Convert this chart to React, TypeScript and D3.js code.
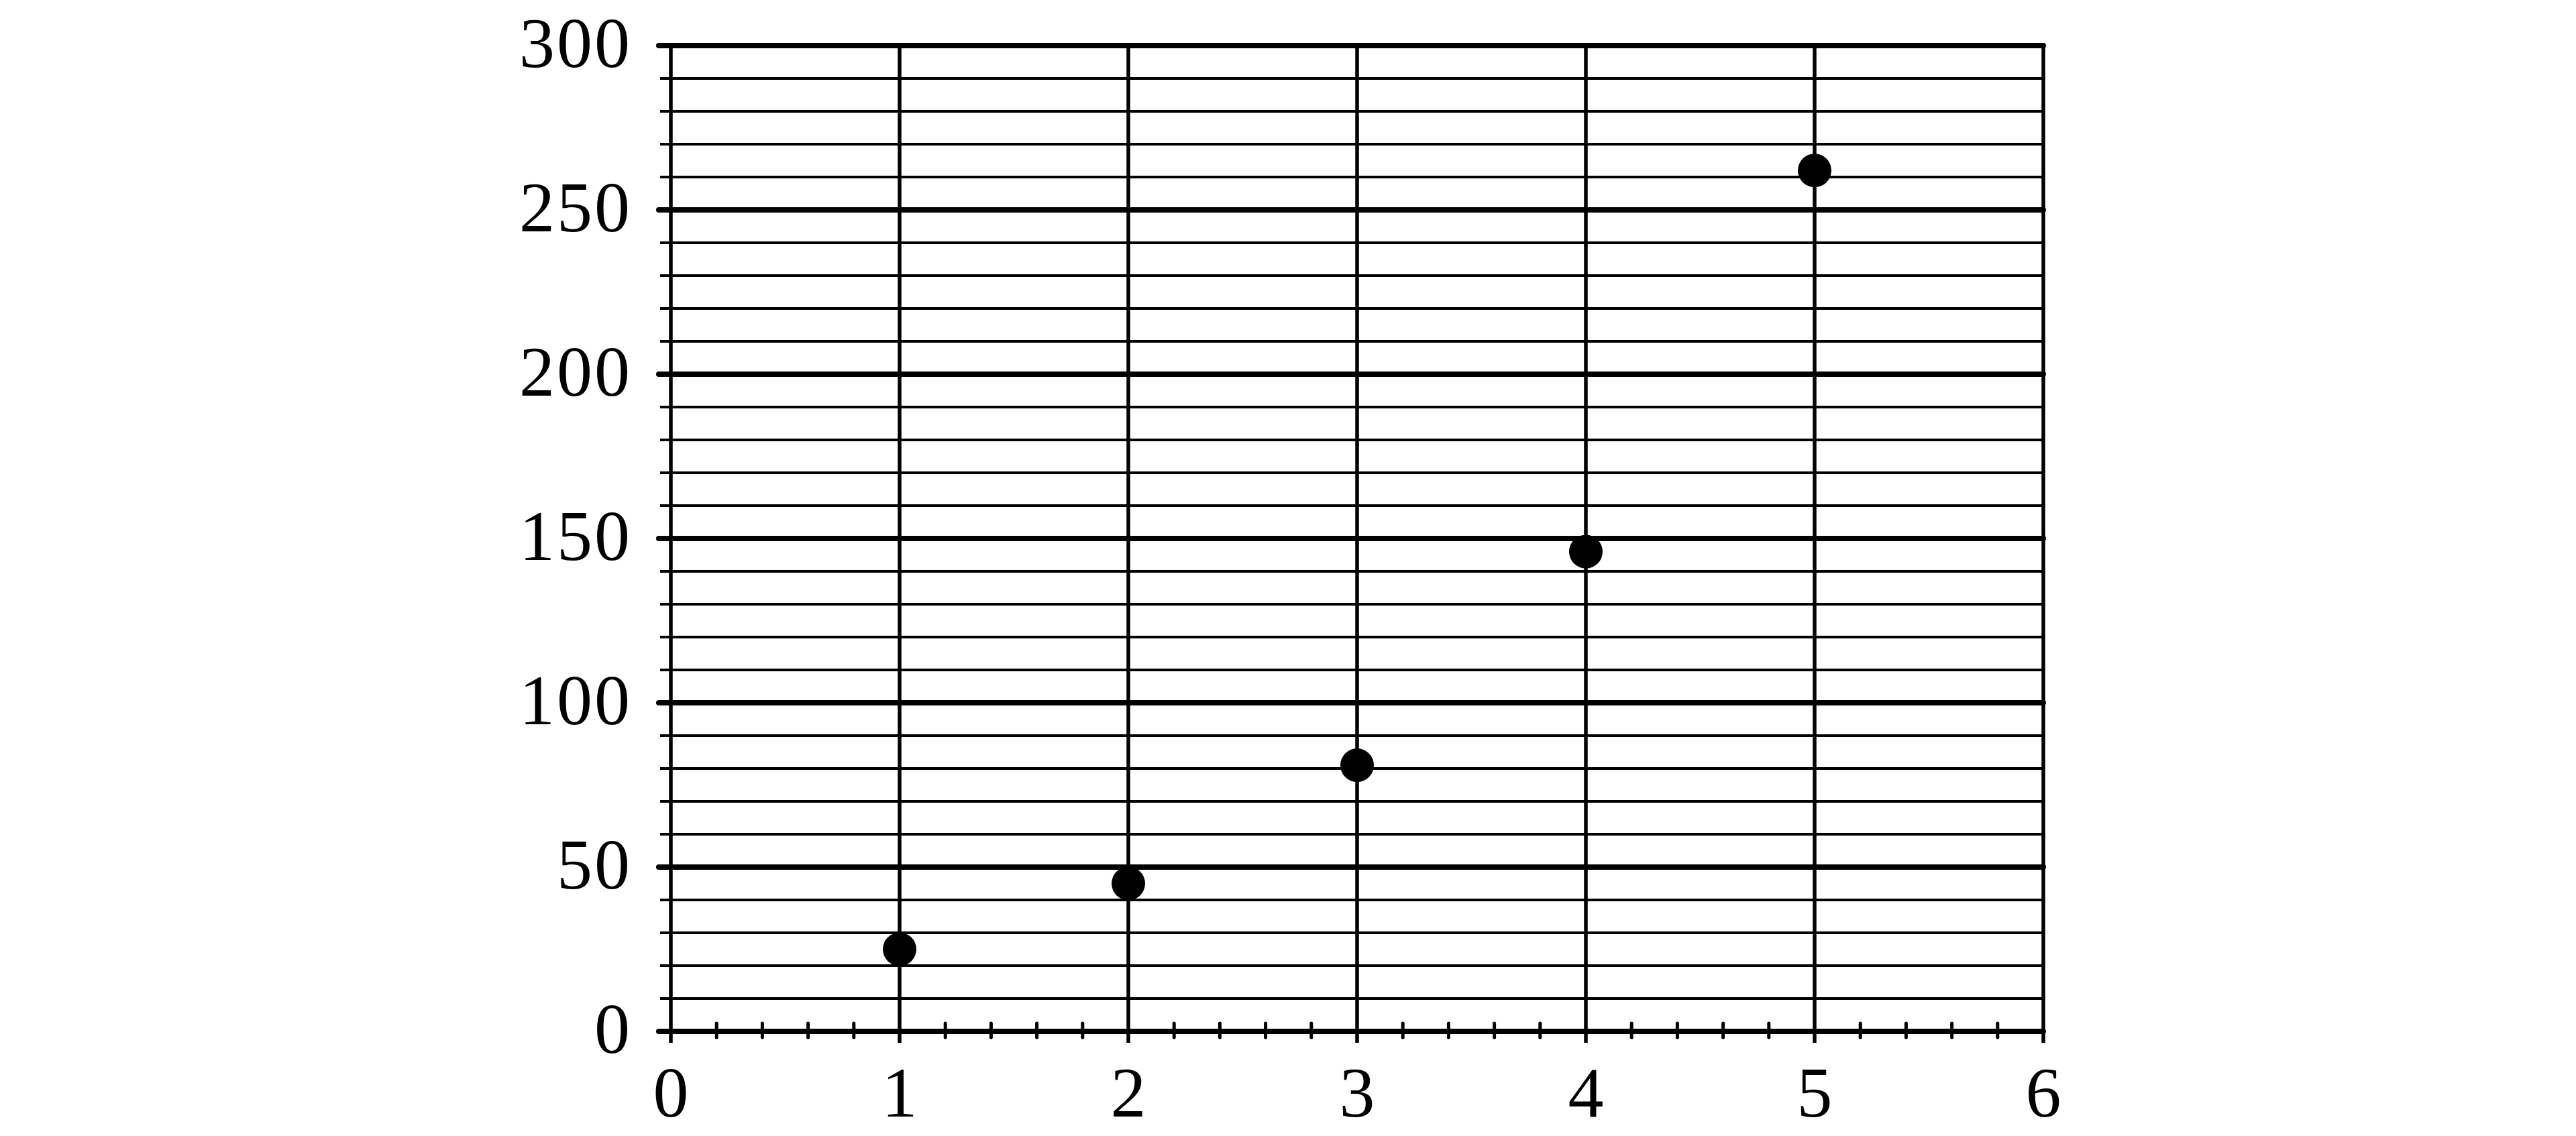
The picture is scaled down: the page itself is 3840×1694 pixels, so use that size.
import React, { useRef, useEffect } from "react";
import * as d3 from "d3";

// data
const xValues = [1, 2, 3, 4, 5];
const yValues = [25, 45, 81, 146, 262];
const xTickLabels = [0, 1, 2, 3, 4, 5, 6];
const yTickLabels = [0, 50, 100, 150, 200, 250, 300];

const dimensions: any = {
  width: 3840,
  height: 1694,
  left: 1000,
  right: 3046,
  top: 68,
  bottom: 1538,
};

const App = () => {
  const ref = useRef<SVGSVGElement>(null);

  useEffect(() => {
    const svg = d3.select(ref.current);
    svg.selectAll("*").remove();

    const xScale = d3.scaleLinear().domain([0, 6]).range([dimensions.left, dimensions.right]);
    const yScale = d3.scaleLinear().domain([0, 300]).range([dimensions.bottom, dimensions.top]);

    const grid = svg.append("g").attr("stroke", "#000");

    // minor horizontal lines every 10
    const minorY = d3.range(0, 301, 10).filter((v) => v % 50 !== 0);
    grid
      .selectAll("line.minor-y")
      .data(minorY)
      .join("line")
      .attr("class", "minor-y")
      .attr("x1", dimensions.left - 16)
      .attr("x2", dimensions.right)
      .attr("y1", (d) => yScale(d))
      .attr("y2", (d) => yScale(d))
      .attr("stroke-width", 4);

    // vertical lines at integers
    grid
      .selectAll("line.vx")
      .data(xTickLabels)
      .join("line")
      .attr("class", "vx")
      .attr("x1", (d) => xScale(d))
      .attr("x2", (d) => xScale(d))
      .attr("y1", dimensions.top)
      .attr("y2", dimensions.bottom + 17)
      .attr("stroke-width", 5.5);

    // minor x ticks every 0.2
    const minorX = d3.range(1, 30).map((i) => i / 5).filter((v, i) => (i + 1) % 5 !== 0);
    grid
      .selectAll("line.minor-x")
      .data(minorX)
      .join("line")
      .attr("class", "minor-x")
      .attr("x1", (d) => xScale(d))
      .attr("x2", (d) => xScale(d))
      .attr("y1", dimensions.bottom - 12)
      .attr("y2", dimensions.bottom + 9)
      .attr("stroke-width", 5)
      .attr("stroke-linecap", "round");

    // major horizontal lines every 50
    grid
      .selectAll("line.major-y")
      .data(yTickLabels)
      .join("line")
      .attr("class", "major-y")
      .attr("x1", dimensions.left - 18)
      .attr("x2", dimensions.right)
      .attr("y1", (d) => yScale(d))
      .attr("y2", (d) => yScale(d))
      .attr("stroke-width", 8)
      .attr("stroke-linecap", "round");

    // y labels
    svg
      .append("g")
      .selectAll("text")
      .data(yTickLabels)
      .join("text")
      .attr("x", dimensions.left - 58)
      .attr("y", (d) => yScale(d) - 5)
      .attr("dy", "0.35em")
      .attr("text-anchor", "end")
      .attr("font-family", "'Liberation Serif', serif")
      .attr("font-size", 106)
      .attr("letter-spacing", 3)
      .attr("fill", "#000")
      .text((d) => d);

    // x labels
    svg
      .append("g")
      .selectAll("text")
      .data(xTickLabels)
      .join("text")
      .attr("x", (d) => xScale(d))
      .attr("y", 1628)
      .attr("dy", "0.35em")
      .attr("text-anchor", "middle")
      .attr("font-family", "'Liberation Serif', serif")
      .attr("font-size", 106)
      .attr("fill", "#000")
      .text((d) => d);

    // points
    svg
      .append("g")
      .selectAll("circle")
      .data(xValues.map((x, i) => ({ x, y: yValues[i] })))
      .join("circle")
      .attr("cx", (d) => xScale(d.x))
      .attr("cy", (d) => yScale(d.y))
      .attr("r", 25)
      .attr("fill", "#000");
  }, []);

  return (
    <svg
      ref={ref}
      width={dimensions.width}
      height={dimensions.height}
      style={{ position: "absolute", left: 0, top: 0, background: "#fff" }}
    />
  );
};

export default App;
